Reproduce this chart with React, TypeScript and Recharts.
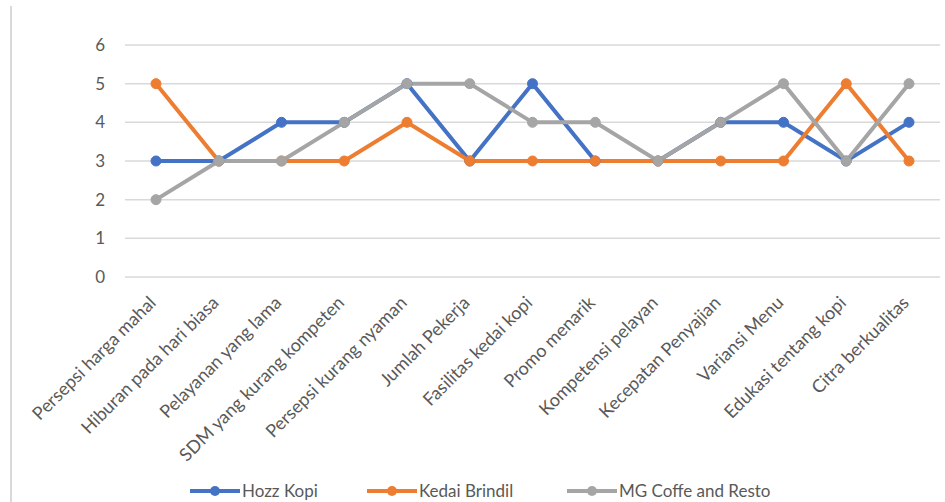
import React from 'react';
import { LineChart, Line, XAxis, YAxis, CartesianGrid } from 'recharts';

const categories = [
  'Persepsi harga mahal',
  'Hiburan pada hari biasa',
  'Pelayanan yang lama',
  'SDM yang kurang kompeten',
  'Persepsi kurang nyaman',
  'Jumlah Pekerja',
  'Fasilitas kedai kopi',
  'Promo menarik',
  'Kompetensi pelayan',
  'Kecepatan Penyajian',
  'Variansi Menu',
  'Edukasi tentang kopi',
  'Citra berkualitas',
];
const hozzKopi = [3, 3, 4, 4, 5, 3, 5, 3, 3, 4, 4, 3, 4];
const kedaiBrindil = [5, 3, 3, 3, 4, 3, 3, 3, 3, 3, 3, 5, 3];
const mgCoffe = [2, 3, 3, 4, 5, 5, 4, 4, 3, 4, 5, 3, 5];
const yTicks = [0, 1, 2, 3, 4, 5, 6];

const series = [
  { key: 'hozz', name: 'Hozz Kopi', color: '#4472C4' },
  { key: 'kedai', name: 'Kedai Brindil', color: '#ED7D31' },
  { key: 'mg', name: 'MG Coffe and Resto', color: '#A5A5A5' },
];
// left edge of each legend entry
const legendLeft = [190, 367, 567];

const data = categories.map((c, i) => ({
  name: c,
  hozz: hozzKopi[i],
  kedai: kedaiBrindil[i],
  mg: mgCoffe[i],
}));

const FONT = 'Lato, "Open Sans", sans-serif';

function CategoryTick(props: any) {
  const { x, y, payload } = props;
  const tx = x + 1;
  const ty = y + 19;
  return (
    <text
      x={tx}
      y={ty}
      textAnchor="end"
      fill="#595959"
      fontSize={18}
      fontFamily={FONT}
      transform={`rotate(-45, ${tx}, ${ty})`}
    >
      {payload.value}
    </text>
  );
}

function ChartLegend() {
  return (
    <div style={{ position: 'absolute', left: 0, top: 480, width: 945, height: 22, fontFamily: FONT, fontSize: 17, color: '#595959' }}>
      {series.map((s, i) => (
        <div key={s.key} style={{ position: 'absolute', left: legendLeft[i], top: 0, display: 'flex', alignItems: 'center', whiteSpace: 'nowrap', lineHeight: '22px' }}>
          <svg width={50} height={12} style={{ marginRight: 2 }}>
            <line x1={0} y1={6} x2={50} y2={6} stroke={s.color} strokeWidth={4} />
            <circle cx={25} cy={6} r={5} fill={s.color} />
          </svg>
          <span>{s.name}</span>
        </div>
      ))}
    </div>
  );
}

export default function App() {
  return (
    <div style={{ position: 'absolute', left: 0, top: 0, width: 945, height: 502, background: '#fff' }}>
      <div style={{ position: 'absolute', left: 10, top: 6, height: 496, width: 2, background: '#D9D9D9' }} />
      <LineChart width={945} height={502} data={data} margin={{ top: 45, right: 5, bottom: 30, left: 0 }}>
        <CartesianGrid vertical={false} stroke="#D9D9D9" strokeWidth={1.5} />
        <XAxis
          dataKey="name"
          axisLine={false}
          tickLine={false}
          interval={0}
          height={195}
          padding={{ left: 31, right: 31 }}
          tick={<CategoryTick />}
        />
        <YAxis
          domain={[0, 6]}
          ticks={yTicks}
          width={125}
          axisLine={false}
          tickLine={false}
          tickSize={18}
          tick={{ fill: '#595959', fontSize: 17, fontFamily: FONT }}
        />
        {series.map((s) => (
          <Line
            key={s.key}
            dataKey={s.key}
            name={s.name}
            stroke={s.color}
            strokeWidth={4}
            dot={{ r: 5, fill: s.color, stroke: s.color, strokeWidth: 1 }}
            activeDot={false}
            isAnimationActive={false}
          />
        ))}
      </LineChart>
      <ChartLegend />
    </div>
  );
}
